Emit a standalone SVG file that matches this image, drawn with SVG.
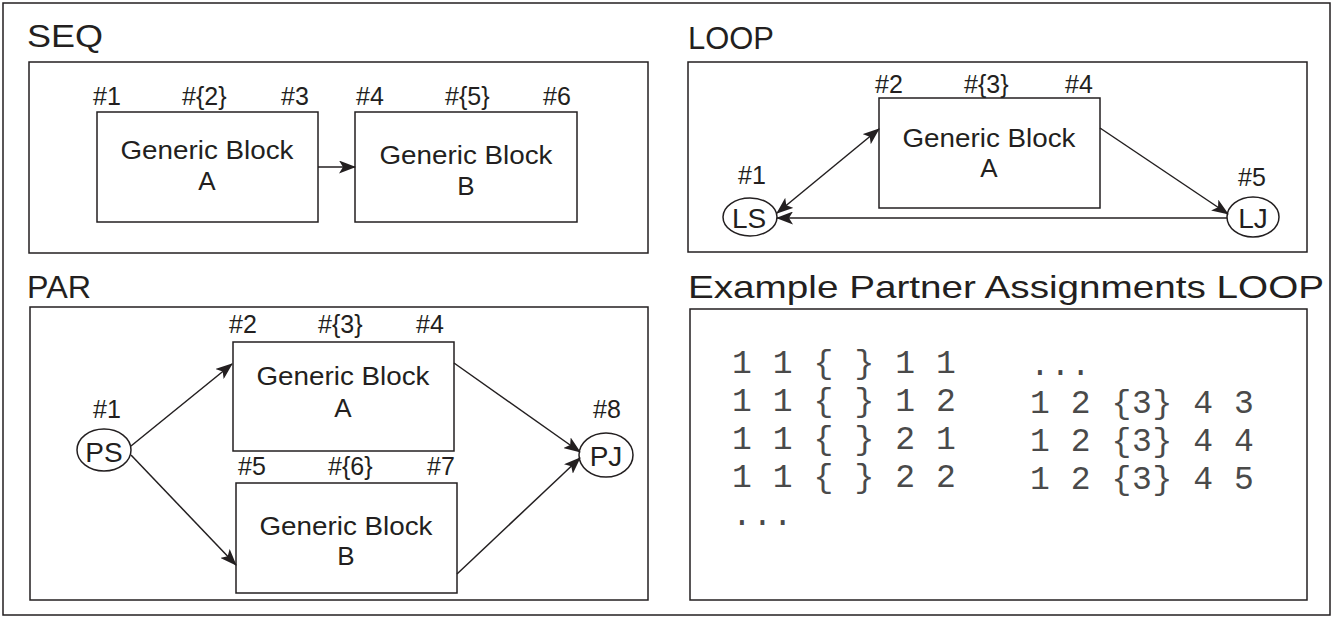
<svg xmlns="http://www.w3.org/2000/svg" width="1342" height="617" viewBox="0 0 1342 617">
  <style>
    .frame { fill: #fff; stroke: #231f20; stroke-width: 1.5; }
    .box { fill: #fff; stroke: #231f20; stroke-width: 1.5; }
    .title { font-family: "Liberation Sans", Arial, sans-serif; font-size: 32px; fill: #231f20; }
    .lbl { font-family: "Liberation Sans", Arial, sans-serif; font-size: 25px; fill: #231f20; }
    .blk { font-family: "Liberation Sans", Arial, sans-serif; font-size: 26px; fill: #231f20; text-anchor: middle; }
    .ctr { font-family: "Liberation Sans", Arial, sans-serif; font-size: 28px; fill: #231f20; text-anchor: middle; }
    .mono { font-family: "Liberation Mono", "Courier New", monospace; font-size: 33px; letter-spacing: 0.6px; fill: #4a4a4a; white-space: pre; }
    .edge { fill: none; stroke: #231f20; stroke-width: 1.5; }
  </style>
  <defs>
    <marker id="arrow" viewBox="0 0 17 13" refX="16" refY="6.5" markerWidth="17" markerHeight="13" markerUnits="userSpaceOnUse" orient="auto-start-reverse">
      <path d="M0,0 L17,6.5 L0,13 L4,6.5 Z" fill="#231f20"/>
    </marker>
  </defs>

  <rect width="1342" height="617" fill="#fff"/>
  <rect x="3" y="3" width="1327" height="612" class="frame"/>

  <!-- section titles -->
  <text class="title" x="27" y="47" textLength="76" lengthAdjust="spacingAndGlyphs">SEQ</text>
  <text class="title" x="688" y="49" textLength="86" lengthAdjust="spacingAndGlyphs">LOOP</text>
  <text class="title" x="27" y="298" textLength="64" lengthAdjust="spacingAndGlyphs">PAR</text>
  <text class="title" x="688" y="298" textLength="636" lengthAdjust="spacingAndGlyphs">Example Partner Assignments LOOP</text>

  <!-- section frames -->
  <rect x="29" y="62" width="619" height="191" class="box"/>
  <rect x="688" y="62" width="619" height="190" class="box"/>
  <rect x="30" y="307" width="618" height="293" class="box"/>
  <rect x="690" y="309" width="617" height="291" class="box"/>

  <!-- SEQ -->
  <g id="seq-a">
    <rect x="97" y="112" width="221" height="110" class="box"/>
    <text class="blk" x="207" y="159" textLength="173" lengthAdjust="spacingAndGlyphs">Generic Block</text>
    <text class="blk" x="207" y="190">A</text>
    <text class="lbl" x="93" y="105">#1</text>
    <text class="lbl" x="182" y="105">#{2}</text>
    <text class="lbl" x="281" y="105">#3</text>
  </g>
  <g id="seq-b">
    <rect x="355" y="112" width="222" height="110" class="box"/>
    <text class="blk" x="466" y="164" textLength="173" lengthAdjust="spacingAndGlyphs">Generic Block</text>
    <text class="blk" x="466" y="195">B</text>
    <text class="lbl" x="356" y="105">#4</text>
    <text class="lbl" x="445" y="105">#{5}</text>
    <text class="lbl" x="543" y="105">#6</text>
  </g>

  <!-- LOOP -->
  <g id="loop-a">
    <rect x="879" y="98" width="221" height="110" class="box"/>
    <text class="blk" x="989" y="147" textLength="173" lengthAdjust="spacingAndGlyphs">Generic Block</text>
    <text class="blk" x="989" y="177">A</text>
    <text class="lbl" x="875" y="93">#2</text>
    <text class="lbl" x="964" y="93">#{3}</text>
    <text class="lbl" x="1065" y="93">#4</text>
  </g>
  <g id="loop-ls">
    <ellipse cx="750" cy="217" rx="27" ry="19" class="box"/>
    <text class="ctr" x="749" y="228">LS</text>
    <text class="lbl" x="738" y="184">#1</text>
  </g>
  <g id="loop-lj">
    <ellipse cx="1253" cy="217" rx="26" ry="20" class="box"/>
    <text class="ctr" x="1253" y="228">LJ</text>
    <text class="lbl" x="1238" y="186">#5</text>
  </g>

  <!-- PAR -->
  <g id="par-ps">
    <ellipse cx="104" cy="450" rx="27" ry="21" class="box"/>
    <text class="ctr" x="104" y="462">PS</text>
    <text class="lbl" x="93" y="418">#1</text>
  </g>
  <g id="par-a">
    <rect x="233" y="342" width="221" height="109" class="box"/>
    <text class="blk" x="343" y="385" textLength="173" lengthAdjust="spacingAndGlyphs">Generic Block</text>
    <text class="blk" x="343" y="417">A</text>
    <text class="lbl" x="229" y="333">#2</text>
    <text class="lbl" x="318" y="333">#{3}</text>
    <text class="lbl" x="416" y="333">#4</text>
  </g>
  <g id="par-b">
    <rect x="236" y="483" width="221" height="110" class="box"/>
    <text class="blk" x="346" y="535" textLength="173" lengthAdjust="spacingAndGlyphs">Generic Block</text>
    <text class="blk" x="346" y="565">B</text>
    <text class="lbl" x="238" y="475">#5</text>
    <text class="lbl" x="328" y="475">#{6}</text>
    <text class="lbl" x="427" y="475">#7</text>
  </g>
  <g id="par-pj">
    <ellipse cx="606" cy="455" rx="27" ry="22" class="box"/>
    <text class="ctr" x="606" y="466">PJ</text>
    <text class="lbl" x="593" y="418">#8</text>
  </g>

  <!-- partner assignment listing -->
  <g id="assignments">
    <text class="mono" x="732" y="373">1 1 { } 1 1</text>
    <text class="mono" x="732" y="411">1 1 { } 1 2</text>
    <text class="mono" x="732" y="449">1 1 { } 2 1</text>
    <text class="mono" x="732" y="487">1 1 { } 2 2</text>
    <text class="mono" x="732" y="525">...</text>
    <text class="mono" x="1030" y="375">...</text>
    <text class="mono" x="1030" y="413">1 2 {3} 4 3</text>
    <text class="mono" x="1030" y="451">1 2 {3} 4 4</text>
    <text class="mono" x="1030" y="489">1 2 {3} 4 5</text>
  </g>

  <!-- connectors -->
  <g id="connectors">
    <line x1="318" y1="167" x2="355" y2="167" class="edge" marker-end="url(#arrow)"/>
    <line x1="777" y1="213" x2="879" y2="129" class="edge" marker-start="url(#arrow)" marker-end="url(#arrow)"/>
    <line x1="1100" y1="128" x2="1228" y2="214" class="edge" marker-end="url(#arrow)"/>
    <line x1="1227" y1="218" x2="777" y2="218" class="edge" marker-end="url(#arrow)"/>
    <line x1="131" y1="446" x2="232" y2="364" class="edge" marker-end="url(#arrow)"/>
    <line x1="131" y1="455" x2="236" y2="565" class="edge" marker-end="url(#arrow)"/>
    <line x1="454" y1="363" x2="580" y2="452" class="edge" marker-end="url(#arrow)"/>
    <line x1="457" y1="574" x2="580" y2="458" class="edge" marker-end="url(#arrow)"/>
  </g>
</svg>
